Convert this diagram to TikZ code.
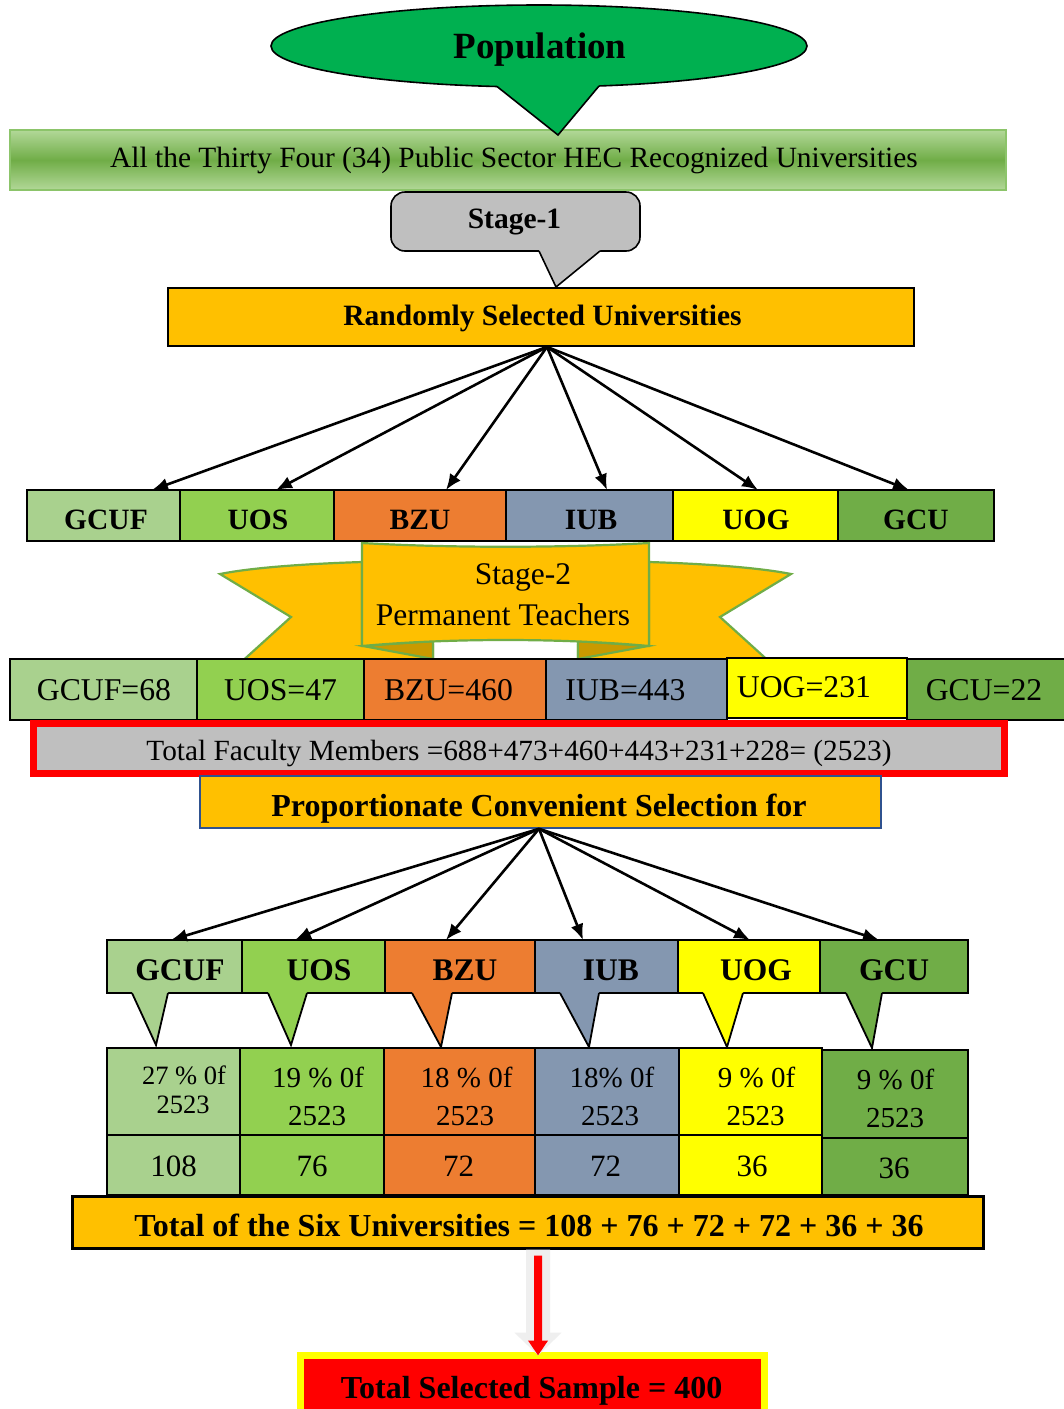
\documentclass[tikz,border=0pt]{standalone}
\usepackage{fontspec}
\setmainfont{Liberation Serif}
\usetikzlibrary{arrows.meta,calc,shapes.geometric}
\definecolor{popgreen}{HTML}{00B050}
\definecolor{lgreen}{HTML}{A9D18E}
\definecolor{mgreen}{HTML}{92D050}
\definecolor{dgreen}{HTML}{70AD47}
\definecolor{borange}{HTML}{ED7D31}
\definecolor{bblue}{HTML}{8497B0}
\definecolor{byellow}{HTML}{FFFF00}
\definecolor{gold}{HTML}{FFC000}
\definecolor{darkgold}{HTML}{C99A00}
\definecolor{lgray}{HTML}{BFBFBF}
\definecolor{navy}{HTML}{2F528F}
\definecolor{shadowgray}{HTML}{EFEFEF}
\definecolor{barline}{HTML}{8CC46A}
\definecolor{barlight}{HTML}{B2D898}
\newcommand\mycell[6]{\node[cellbox,fill=#6,minimum width={(#3-#2)*0.5pt},minimum height={(#5-#4)*0.5pt}] (#1) at (#2,#4) {};}
\begin{document}
\begin{tikzpicture}[x=0.5pt,y=-0.5pt,
  cellbox/.style={draw=black,line width=0.9pt,inner sep=0pt,outer sep=0pt,anchor=north west},
  txt/.style={inner sep=0pt,anchor=base},
  bigb/.style={font=\bfseries\fontsize{16}{19}\selectfont},
  midb/.style={font=\bfseries\fontsize{14.75}{17}\selectfont},
  rowtwo/.style={font=\fontsize{15.85}{18}\selectfont},
  pct/.style={font=\fontsize{14.5}{17}\selectfont},
  pctsmall/.style={font=\fontsize{13.25}{16}\selectfont},
  num/.style={font=\fontsize{15.5}{18}\selectfont},
  fan/.style={line width=1.3pt,-{Latex[length=8pt,width=6.5pt]}},
  ptr/.style={line width=0.9pt}
]
\useasboundingbox (0,0) rectangle (1064,1409);
\fill[white] (0,0) rectangle (1064,1409);

% ---------- green bar ----------
\node[draw=barline,line width=1.2pt,minimum width=498pt,minimum height=30pt,inner sep=0pt,
  top color=barlight,bottom color=barlight,middle color=dgreen] (bar) at (508,160) {};
\node[txt,font=\fontsize{14.7}{17}\selectfont] (bart) at (514,167) {All the Thirty Four (34) Public Sector HEC Recognized Universities};

% ---------- Stage-1 callout ----------
\node[draw=black,line width=0.8pt,fill=lgray,rounded corners=7pt,minimum width=124.5pt,minimum height=29.5pt,inner sep=0pt] (st1) at (515.5,221.5) {};
\fill[lgray] (539,251) -- (539,245) -- (600,245) -- (600,251) -- (556,287) -- cycle;
\draw[line width=0.8pt] (539,251) -- (556,287) -- (600,251);
\node[txt,midb] (st1t) at (514.5,228) {Stage-1};

% ---------- Population callout ----------
\node[ellipse,draw=black,line width=0.8pt,fill=popgreen,minimum width=268pt,minimum height=41pt,inner sep=0pt] (pop) at (539,46) {};
\fill[popgreen] (497,86.5) -- (497,79) -- (599,79) -- (599,86) -- (558,135) -- cycle;
\draw[line width=0.8pt] (497,86.5) -- (558,135) -- (599,86);
\node[txt,font=\bfseries\fontsize{18.5}{22}\selectfont] (popt) at (540,58) {Population};

% ---------- Randomly selected ----------
\node[draw=black,line width=0.9pt,fill=gold,minimum width=373pt,minimum height=29pt,inner sep=0pt] (rsu) at (541,317) {};
\node[txt,midb] (rsut) at (542.5,325) {Randomly Selected Universities};

% ---------- Row 1 ----------
\mycell{c1}{27}{180}{490}{541}{lgreen}
\mycell{c2}{180}{334}{490}{541}{mgreen}
\mycell{c3}{334}{506}{490}{541}{borange}
\mycell{c4}{506}{673}{490}{541}{bblue}
\mycell{c5}{673}{838}{490}{541}{byellow}
\mycell{c6}{838}{994}{490}{541}{dgreen}
\node[txt,midb] (c1t) at (106,529) {GCUF};
\node[txt,midb] (c2t) at (258,529) {UOS};
\node[txt,midb] (c3t) at (420,529) {BZU};
\node[txt,midb] (c4t) at (591,529) {IUB};
\node[txt,midb] (c5t) at (756,529) {UOG};
\node[txt,midb] (c6t) at (916,529) {GCU};

\draw[fan] ([xshift=3pt]rsu.south) -- ([xshift=24.25pt]c1.north);
\draw[fan] ([xshift=3pt]rsu.south) -- ([xshift=9.5pt]c2.north);
\draw[fan] ([xshift=3pt]rsu.south) -- ([xshift=13pt]c3.north);
\draw[fan] ([xshift=3pt]rsu.south) -- ([xshift=8.75pt]c4.north);
\draw[fan] ([xshift=3pt]rsu.south) -- ([xshift=1.25pt]c5.north);
\draw[fan] ([xshift=3pt]rsu.south) -- ([xshift=-3.5pt]c6.north);

% ---------- Stage-2 ribbon ----------
\begin{scope}[draw=dgreen,line width=1.1pt,line join=miter]
\filldraw[fill=gold] (362,562) .. controls (300,564) and (250,568) .. (220,574) -- (291,617) -- (238,665) -- (433,665) -- (433,645) -- (362,645) -- cycle;
\filldraw[fill=gold] (649,562) .. controls (711,564) and (761,568) .. (791,574) -- (720,617) -- (773,665) -- (578,665) -- (578,645) -- (649,645) -- cycle;
\filldraw[fill=darkgold] (363,646) -- (433,641) -- (433,659) -- cycle;
\filldraw[fill=darkgold] (648,646) -- (578,641) -- (578,659) -- cycle;
\filldraw[fill=gold] (362,543) .. controls (450,548) and (561,548) .. (649,543) -- (649,646) .. controls (561,638) and (450,638) .. (362,646) -- cycle;
\end{scope}
\node[txt,font=\fontsize{15.75}{18}\selectfont] (s2a) at (523,584) {Stage-2};
\node[txt,font=\fontsize{15.75}{18}\selectfont] (s2b) at (503,625) {Permanent Teachers};

% ---------- Row 2 ----------
\mycell{e1}{10}{197}{659}{720}{lgreen}
\mycell{e2}{197}{364}{659}{720}{mgreen}
\mycell{e3}{364}{546}{659}{720}{borange}
\mycell{e4}{546}{727}{659}{720}{bblue}
\mycell{e5}{727}{907}{658}{718}{byellow}
\mycell{e6}{907}{1075}{659}{720}{dgreen}
\node[txt,rowtwo] (e1t) at (104,700) {GCUF=68};
\node[txt,rowtwo] (e2t) at (280.5,700) {UOS=47};
\node[txt,rowtwo] (e3t) at (448.5,700) {BZU=460};
\node[txt,rowtwo] (e4t) at (625.5,700) {IUB=443};
\node[txt,rowtwo] (e5t) at (804,697) {UOG=231};
\node[txt,rowtwo] (e6t) at (984,700) {GCU=22};

% ---------- Total faculty ----------
\node[draw=red,line width=3.5pt,fill=lgray,minimum width=485.5pt,minimum height=25pt,inner sep=0pt] (tf) at (519,748.5) {};
\node[txt,font=\fontsize{14.65}{17}\selectfont] (tft) at (519,760) {Total Faculty Members =688+473+460+443+231+228= (2523)};

% ---------- Proportionate ----------
\node[draw=navy,line width=0.8pt,fill=gold,minimum width=340.5pt,minimum height=26pt,inner sep=0pt] (prop) at (540.5,802) {};
\node[txt,bigb] (propt) at (539,816) {Proportionate Convenient Selection for};

% ---------- Row 3 (callouts) ----------
\mycell{d1}{107}{242}{940}{993}{lgreen}
\mycell{d2}{242}{385}{940}{993}{mgreen}
\mycell{d3}{385}{535}{940}{993}{borange}
\mycell{d4}{535}{678}{940}{993}{bblue}
\mycell{d5}{678}{820}{940}{993}{byellow}
\mycell{d6}{820}{968}{940}{993}{dgreen}
\fill[lgreen] (132,993) -- (132,988) -- (168,988) -- (168,993) -- (156,1045) -- cycle;
\draw[ptr] (132,993) -- (156,1045) -- (168,993);
\fill[mgreen] (268,993) -- (268,988) -- (307,988) -- (307,993) -- (291,1045) -- cycle;
\draw[ptr] (268,993) -- (291,1045) -- (307,993);
\fill[borange] (412,993) -- (412,988) -- (452,988) -- (452,993) -- (441,1047) -- cycle;
\draw[ptr] (412,993) -- (441,1047) -- (452,993);
\fill[bblue] (560,993) -- (560,988) -- (599,988) -- (599,993) -- (589,1047) -- cycle;
\draw[ptr] (560,993) -- (589,1047) -- (599,993);
\fill[byellow] (703,993) -- (703,988) -- (743,988) -- (743,993) -- (727,1047) -- cycle;
\draw[ptr] (703,993) -- (727,1047) -- (743,993);
\fill[dgreen] (846,993) -- (846,988) -- (882,988) -- (882,993) -- (872,1048) -- cycle;
\draw[ptr] (846,993) -- (872,1048) -- (882,993);
\node[txt,font=\bfseries\fontsize{15.75}{18}\selectfont] (d1t) at (180,980) {GCUF};
\node[txt,font=\bfseries\fontsize{15.75}{18}\selectfont] (d2t) at (319,980) {UOS};
\node[txt,font=\bfseries\fontsize{15.75}{18}\selectfont] (d3t) at (465,980) {BZU};
\node[txt,font=\bfseries\fontsize{15.75}{18}\selectfont] (d4t) at (611,980) {IUB};
\node[txt,font=\bfseries\fontsize{15.75}{18}\selectfont] (d5t) at (756,980) {UOG};
\node[txt,font=\bfseries\fontsize{15.75}{18}\selectfont] (d6t) at (894,980) {GCU};

\draw[fan] ([xshift=-0.75pt]prop.south) -- ([xshift=-1.75pt]d1.north);
\draw[fan] ([xshift=-0.75pt]prop.south) -- ([xshift=-9.25pt]d2.north);
\draw[fan] ([xshift=-0.75pt]prop.south) -- ([xshift=-7pt]d3.north);
\draw[fan] ([xshift=-0.75pt]prop.south) -- ([xshift=-11.75pt]d4.north);
\draw[fan] ([xshift=-0.75pt]prop.south) -- ([xshift=0.5pt]d5.north);
\draw[fan] ([xshift=-0.75pt]prop.south) -- ([xshift=-7.5pt]d6.north);

% ---------- Row 4 ----------
\mycell{f1}{107}{240}{1048}{1135}{lgreen}
\mycell{f2}{240}{384}{1048}{1135}{mgreen}
\mycell{f3}{384}{535}{1048}{1135}{borange}
\mycell{f4}{535}{679}{1048}{1135}{bblue}
\mycell{f5}{679}{822}{1048}{1135}{byellow}
\mycell{f6}{822}{968}{1050}{1138}{dgreen}
\node[txt,pctsmall] (f1a) at (184,1084) {27 \% 0f};
\node[txt,pctsmall] (f1b) at (183,1113) {2523};
\node[txt,pct] (f2a) at (318,1087) {19 \% 0f};
\node[txt,pct] (f2b) at (317,1125) {2523};
\node[txt,pct] (f3a) at (466.5,1087) {18 \% 0f};
\node[txt,pct] (f3b) at (465,1125) {2523};
\node[txt,pct] (f4a) at (612,1087) {18\% 0f};
\node[txt,pct] (f4b) at (610,1125) {2523};
\node[txt,pct] (f5a) at (756.5,1087) {9 \% 0f};
\node[txt,pct] (f5b) at (755.5,1125) {2523};
\node[txt,pct] (f6a) at (895.5,1089) {9 \% 0f};
\node[txt,pct] (f6b) at (895,1127) {2523};

% ---------- Row 5 ----------
\mycell{g1}{107}{240}{1135}{1195}{lgreen}
\mycell{g2}{240}{384}{1135}{1195}{mgreen}
\mycell{g3}{384}{535}{1135}{1195}{borange}
\mycell{g4}{535}{679}{1135}{1195}{bblue}
\mycell{g5}{679}{822}{1135}{1195}{byellow}
\mycell{g6}{822}{968}{1138}{1195}{dgreen}
\node[txt,num] (g1t) at (173.5,1176) {108};
\node[txt,num] (g2t) at (312,1176) {76};
\node[txt,num] (g3t) at (458.5,1176) {72};
\node[txt,num] (g4t) at (605.5,1176) {72};
\node[txt,num] (g5t) at (752,1176) {36};
\node[txt,num] (g6t) at (894,1178) {36};

% ---------- Total of six ----------
\node[draw=black,line width=1.5pt,fill=gold,minimum width=455.5pt,minimum height=26pt,inner sep=0pt] (tot) at (527.5,1222) {};
\node[txt,bigb] (tott) at (529,1236) {Total of the Six Universities = 108 + 76 + 72 + 72 + 36 + 36};

% ---------- Final sample ----------
\node[draw=byellow,line width=3.5pt,fill=red,minimum width=232.25pt,minimum height=42pt,inner sep=0pt,outer sep=0pt,anchor=north west] (fin) at (300,1355.5) {};
\node[txt,bigb] (fint) at (531.5,1398) {Total Selected Sample = 400};

\draw[shadowgray,line width=12pt,-{Triangle[length=11.5pt,width=23pt]}] ([xshift=5.25pt]tot.south) -- ([xshift=2.9pt]fin.north);
\draw[red,line width=4pt,shorten <=3pt,-{Triangle[length=7.5pt,width=9.5pt]}] ([xshift=5.25pt]tot.south) -- ([xshift=2.9pt]fin.north);
\end{tikzpicture}
\end{document}
